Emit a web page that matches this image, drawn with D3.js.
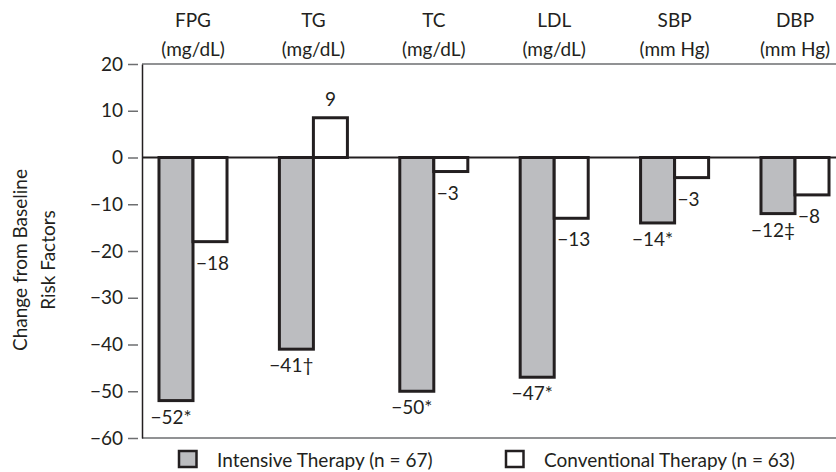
<!DOCTYPE html>
<html>
<head>
<meta charset="utf-8">
<script src="https://cdn.jsdelivr.net/npm/d3@7"></script>
<style>
  body { margin: 0; background: #fff; }
  text { font-family: Lato, "Open Sans", sans-serif; fill: #231f20; }
</style>
</head>
<body>
<div id="chart"></div>
<script>
// Define svg width and height
var svgWidth = 836;
var svgHeight = 472;
var fontSize = "19px";

// Data
var factors = ["FPG", "TG", "TC", "LDL", "SBP", "DBP"];
var units = ["(mg/dL)", "(mg/dL)", "(mg/dL)", "(mg/dL)", "(mm Hg)", "(mm Hg)"];
var intensive = [-52, -41, -50, -47, -14, -12];
var conventional = [-18, 8.5, -3, -13, -4.3, -8];
var intensiveLabels = ["\u221252*", "\u221241\u2020", "\u221250*", "\u221247*", "\u221214*", "\u221212\u2021"];
var conventionalLabels = ["\u221218", "9", "\u22123", "\u221213", "\u22123", "\u22128"];
var yTicks = [20, 10, 0, -10, -20, -30, -40, -50, -60];
var seriesNames = ["Intensive Therapy (n = 67)", "Conventional Therapy (n = 63)"];

var ink = "#231f20";
var grayFill = "#bcbdc0";

var svg = d3.select("#chart")
  .append("svg")
  .attr("width", svgWidth)
  .attr("height", svgHeight);

// scales
var axisX = 142;
var x0 = d3.scaleBand()
  .domain(factors)
  .range([132.8, 855.2])
  .paddingInner(0.435)
  .paddingOuter(0.2175);

var x1 = d3.scaleBand()
  .domain(["intensive", "conventional"])
  .range([0, x0.bandwidth()]);

var y = d3.scaleLinear()
  .domain([-60, 20])
  .range([438, 64]);

// frame lines top and bottom
svg.append("line")
  .attr("x1", axisX).attr("x2", svgWidth)
  .attr("y1", y(20)).attr("y2", y(20))
  .attr("stroke", "#6d6e70").attr("stroke-width", 1.5);
svg.append("line")
  .attr("x1", axisX).attr("x2", svgWidth)
  .attr("y1", y(-60)).attr("y2", y(-60))
  .attr("stroke", "#6d6e70").attr("stroke-width", 1.5);

// y axis
var leftAxis = d3.axisLeft(y)
  .tickValues(yTicks)
  .tickSize(14)
  .tickSizeOuter(0)
  .tickPadding(5)
  .tickFormat(d3.format("d"));

var yAxis = svg.append("g")
  .attr("transform", `translate(${axisX}, 0)`)
  .call(leftAxis);

yAxis.select(".domain").attr("stroke", ink).attr("stroke-width", 1.5);
yAxis.selectAll(".tick line")
  .attr("stroke", "#6d6e70").attr("stroke-width", 1.5)
  .attr("x1", -4);
yAxis.selectAll(".tick text")
  .style("font-size", fontSize)
  .style("font-family", "Lato, sans-serif")
  .attr("fill", ink);

// y label
var ylabel = svg.append("text")
  .attr("transform", "translate(0, 260) rotate(-90)")
  .attr("text-anchor", "middle")
  .style("font-size", fontSize);
ylabel.append("tspan").attr("x", 0).attr("y", 27).text("Change from Baseline");
ylabel.append("tspan").attr("x", 0).attr("y", 55).text("Risk Factors");

// column headers
var headers = svg.append("g");
factors.forEach(function(f, i) {
  var cx = x0(f) + x0.bandwidth() / 2;
  headers.append("text")
    .attr("x", cx).attr("y", 27)
    .attr("text-anchor", "middle")
    .style("font-size", fontSize)
    .text(f);
  headers.append("text")
    .attr("x", cx).attr("y", 56)
    .attr("text-anchor", "middle")
    .style("font-size", fontSize)
    .text(units[i]);
});

// bars
var bars = svg.append("g");
factors.forEach(function(f, i) {
  var xi = x0(f) + x1("intensive");
  var xc = x0(f) + x1("conventional");
  var w = x1.bandwidth();

  bars.append("rect")
    .attr("x", xi)
    .attr("y", Math.min(y(0), y(intensive[i])))
    .attr("width", w)
    .attr("height", Math.abs(y(intensive[i]) - y(0)))
    .attr("fill", grayFill)
    .attr("stroke", ink)
    .attr("stroke-width", 3);

  bars.append("rect")
    .attr("x", xc)
    .attr("y", Math.min(y(0), y(conventional[i])))
    .attr("width", w)
    .attr("height", Math.abs(y(conventional[i]) - y(0)))
    .attr("fill", "#fff")
    .attr("stroke", ink)
    .attr("stroke-width", 3);

  // value labels
  bars.append("text")
    .attr("x", xi + w / 2 - 5)
    .attr("y", y(intensive[i]) + 23)
    .attr("text-anchor", "middle")
    .style("font-size", fontSize)
    .text(intensiveLabels[i]);

  if (conventional[i] >= 0) {
    bars.append("text")
      .attr("x", xc + w / 2)
      .attr("y", y(conventional[i]) - 12)
      .attr("text-anchor", "middle")
      .style("font-size", fontSize)
      .text(conventionalLabels[i]);
  } else {
    bars.append("text")
      .attr("x", xc + 3)
      .attr("y", y(conventional[i]) + 28)
      .attr("text-anchor", "start")
      .style("font-size", fontSize)
      .text(conventionalLabels[i]);
  }
});

// zero line
svg.append("line")
  .attr("x1", axisX).attr("x2", svgWidth)
  .attr("y1", y(0)).attr("y2", y(0))
  .attr("stroke", ink).attr("stroke-width", 2);

// legend
var legendX = [179, 506];
var legendFill = [grayFill, "#fff"];
seriesNames.forEach(function(name, i) {
  var g = svg.append("g").attr("transform", `translate(${legendX[i]}, 451)`);
  g.append("rect")
    .attr("width", 17.5).attr("height", 16)
    .attr("fill", legendFill[i])
    .attr("stroke", ink)
    .attr("stroke-width", 2.5);
  g.append("text")
    .attr("x", 38).attr("y", 16)
    .style("font-size", fontSize)
    .text(name);
});
</script>
</body>
</html>
